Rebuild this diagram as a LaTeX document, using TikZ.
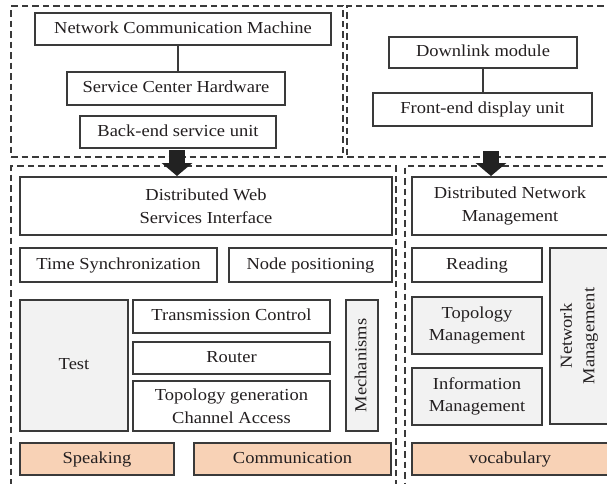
\documentclass[tikz,border=0pt]{standalone}
\usepackage{fontspec}
\setmainfont{Liberation Serif}[FakeStretch=1.1]
\usetikzlibrary{arrows.meta}
\definecolor{gfill}{HTML}{F2F2F2}
\definecolor{peach}{HTML}{F8D2B6}
\definecolor{edge}{HTML}{3A3A3A}
\definecolor{ink}{HTML}{231F20}
\definecolor{arrowc}{HTML}{222222}
\begin{document}
\begin{tikzpicture}[x=1pt,y=-1pt,
  box/.style={draw=edge, line width=1.2pt, inner sep=0pt, align=center,
    font=\fontsize{16.8}{22.5}\selectfont, text=ink},
  one/.style={text height=12.2pt, text depth=3.6pt},
  graybox/.style={box, fill=gfill},
  peachbox/.style={box, fill=peach},
  group/.style={draw=edge, line width=1.2pt, dash pattern=on 6.5pt off 4pt, inner sep=0pt},
  bigarrow/.style={draw=arrowc, line width=16pt, -{Triangle[width=30pt,length=13pt,fill=arrowc]}},
  link/.style={draw=edge, line width=1.2pt}]
\useasboundingbox (0,0) rectangle (607,483);
\clip (0,0) rectangle (607,483);
\fill[white] (0,0) rectangle (607,483);
% group frames
\node[group, minimum width=332pt, minimum height=151pt] (gTL) at (177,81.5) {};
\node[group, minimum width=268pt, minimum height=151pt] (gTR) at (481,81.5) {};
\node[group, minimum width=385pt, minimum height=324pt] (gBL) at (203.5,328) {};
\node[group, minimum width=210pt, minimum height=324pt] (gBR) at (510,328) {};
% top left
\node[box, one, minimum width=296pt, minimum height=32pt] (ncm) at (183,29) {Network Communication Machine};
\node[box, one, minimum width=218pt, minimum height=33pt] (sch) at (176,88.5) {Service Center Hardware};
\node[box, one, minimum width=196pt, minimum height=32pt] (bes) at (178,132) {Back-end service unit};
\coordinate (lk1) at (178,45);
\draw[link] (lk1) -- (lk1 |- sch.north);
% top right
\node[box, one, minimum width=188pt, minimum height=31pt] (dlm) at (483,52.5) {Downlink module};
\node[box, one, minimum width=219pt, minimum height=33pt] (fed) at (482.5,109.5) {Front-end display unit};
\draw[link] (dlm.south) -- (dlm.south |- fed.north);
% arrows
\coordinate (a1s) at (177,150);
\coordinate (a1e) at (177,176);
\coordinate (a2s) at (491,151);
\coordinate (a2e) at (491,176);
\draw[bigarrow] (a1s) -- (a1e);
\draw[bigarrow] (a2s) -- (a2e);
% bottom left
\node[box, minimum width=372pt, minimum height=58pt] (dwsi) at (206,206) {Distributed Web\\Services Interface};
\node[box, one, minimum width=197pt, minimum height=34pt] (ts) at (118.5,265) {Time Synchronization};
\node[box, one, minimum width=163pt, minimum height=34pt] (np) at (310.5,265) {Node positioning};
\node[graybox, one, minimum width=108pt, minimum height=131pt] (test) at (74,365.5) {Test};
\node[box, one, minimum width=197pt, minimum height=33pt] (tc) at (231.5,316.5) {Transmission Control};
\node[box, one, minimum width=197pt, minimum height=32pt] (router) at (231.5,358) {Router};
\node[box, minimum width=197pt, minimum height=50pt] (tg) at (231.5,406) {Topology generation\\Channel Access};
\node[graybox, one, rotate=90, minimum width=131pt, minimum height=32pt] (mech) at (362,365.5) {Mechanisms};
\node[peachbox, one, minimum width=154pt, minimum height=32pt] (speak) at (97,459) {Speaking};
\node[peachbox, one, minimum width=197pt, minimum height=32pt] (comm) at (292.5,459) {Communication};
% bottom right
\node[box, minimum width=196pt, minimum height=58pt] (dnm) at (510,206) {Distributed Network\\Management};
\node[box, one, minimum width=130pt, minimum height=34pt] (read) at (477,265) {Reading};
\node[graybox, minimum width=130pt, minimum height=57pt] (tm) at (477,325.5) {Topology\\Management};
\node[graybox, minimum width=130pt, minimum height=57pt] (im) at (477,396.5) {Information\\Management};
\node[graybox, rotate=90, minimum width=176pt, minimum height=58pt] (nm) at (579,336) {Network\\Management};
\node[peachbox, one, minimum width=196pt, minimum height=32pt] (voc) at (510,459) {vocabulary};
\end{tikzpicture}
\end{document}
